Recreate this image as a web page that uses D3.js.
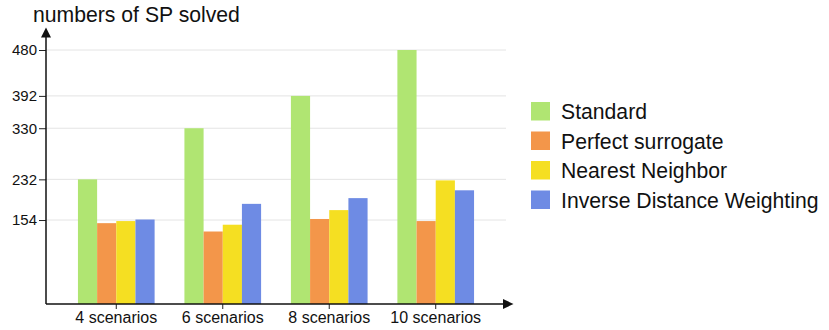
<!DOCTYPE html>
<html>
<head>
<meta charset="utf-8">
<script src="https://cdn.jsdelivr.net/npm/d3@7"></script>
<style>
  html, body { margin: 0; padding: 0; background: #fff; }
  svg { display: block; font-family: "Liberation Sans", Arial, sans-serif; }
</style>
</head>
<body>
<svg id="chart" width="829" height="330"></svg>
<script>
// Categories and series
const categories = ["4 scenarios", "6 scenarios", "8 scenarios", "10 scenarios"];
const seriesNames = ["Standard", "Perfect surrogate", "Nearest Neighbor", "Inverse Distance Weighting"];
const standard = [232, 330, 392, 480];
const perfectSurrogate = [148, 132, 156, 152];
const nearestNeighbor = [152, 145, 173, 230];
const inverseDistance = [155, 185, 196, 211];
const yTickValues = [154, 232, 330, 392, 480];
const colors = ["#b0e572", "#f3964a", "#f5df22", "#6e8be4"];

const series = [standard, perfectSurrogate, nearestNeighbor, inverseDistance];

const svg = d3.select("#chart");
const plotLeft = 46, plotRight = 506, plotBottom = 304, plotTop = 50;

const x0 = d3.scaleBand().domain(categories).range([plotLeft, plotRight])
  .paddingInner(0.28).paddingOuter(0.3);
const x1 = d3.scaleBand().domain(seriesNames).range([0, x0.bandwidth()]);
const y = d3.scaleLinear().domain([-7, 480]).range([plotBottom, plotTop]);

// Gridlines
svg.append("g").selectAll("line").data(yTickValues).join("line")
  .attr("x1", plotLeft).attr("x2", plotRight)
  .attr("y1", d => y(d)).attr("y2", d => y(d))
  .attr("stroke", "#e4e4e4").attr("stroke-width", 1);

// Bars
const groups = svg.append("g").selectAll("g").data(categories).join("g")
  .attr("transform", d => `translate(${x0(d)},0)`);
groups.selectAll("rect")
  .data((c, ci) => seriesNames.map((s, si) => ({ s, si, v: series[si][ci] })))
  .join("rect")
  .attr("x", d => x1(d.s))
  .attr("width", x1.bandwidth())
  .attr("y", d => y(d.v))
  .attr("height", d => plotBottom - y(d.v))
  .attr("fill", d => colors[d.si]);

// Y axis
const yAxis = d3.axisLeft(y).tickValues(yTickValues).tickSize(7).tickPadding(2);
const gy = svg.append("g").attr("transform", `translate(${plotLeft},0)`).call(yAxis);
gy.select(".domain").remove();
gy.selectAll(".tick line").attr("stroke", "#222");
gy.selectAll(".tick text").attr("font-size", 15).attr("fill", "#111")
  .attr("font-family", "Liberation Sans, Arial, sans-serif");

// X axis
const xAxis = d3.axisBottom(x0).tickSize(5).tickPadding(3);
const gx = svg.append("g").attr("transform", `translate(0,${plotBottom})`).call(xAxis);
gx.select(".domain").remove();
gx.selectAll(".tick line").attr("stroke", "#222");
gx.selectAll(".tick text").attr("font-size", 16).attr("fill", "#111")
  .attr("font-family", "Liberation Sans, Arial, sans-serif");

// Axis lines with arrowheads
svg.append("line").attr("x1", plotLeft).attr("x2", plotLeft).attr("y1", plotBottom).attr("y2", 36)
  .attr("stroke", "#111").attr("stroke-width", 1.5);
svg.append("path").attr("d", `M${plotLeft - 5},37.5L${plotLeft + 5},37.5L${plotLeft},27.5Z`).attr("fill", "#111");
svg.append("line").attr("x1", plotLeft).attr("x2", 504).attr("y1", plotBottom).attr("y2", plotBottom)
  .attr("stroke", "#111").attr("stroke-width", 1.5);
svg.append("path").attr("d", `M503,${plotBottom - 5}L503,${plotBottom + 5}L513.5,${plotBottom}Z`).attr("fill", "#111");

// Axis title
svg.append("text").attr("x", 33).attr("y", 22).attr("font-size", 21.2).attr("fill", "#111")
  .text("numbers of SP solved");

// Legend
const legend = svg.append("g").selectAll("g").data(seriesNames).join("g")
  .attr("transform", (d, i) => `translate(531,${102 + i * 29.5})`);
legend.append("rect").attr("width", 19).attr("height", 18.5)
  .attr("fill", (d, i) => colors[i]);
legend.append("text").attr("x", 30).attr("y", 17).attr("font-size", 21.2).attr("fill", "#111")
  .text(d => d);
</script>
</body>
</html>
